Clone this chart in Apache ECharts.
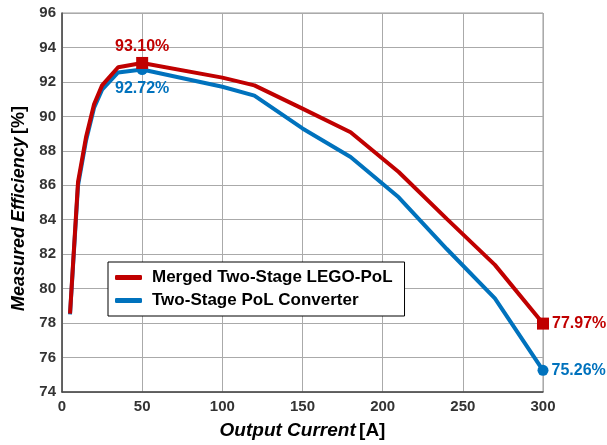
<!DOCTYPE html>
<html>
<head>
<meta charset="utf-8">
<script src="https://cdn.jsdelivr.net/npm/echarts@6/dist/echarts.min.js"></script>
<style>
  html, body { margin: 0; padding: 0; background: #fff; }
  #chart { width: 607px; height: 445px; }
</style>
</head>
<body>
<div id="chart"></div>
<script>
// Output current sweep [A]
const current = [5, 10, 15, 20, 25, 35, 50, 100, 120, 150, 180, 210, 240, 270, 300];
// Measured efficiency [%]
const mergedLego = [78.55, 86.2, 88.8, 90.7, 91.8, 92.85, 93.10, 92.25, 91.8, 90.45, 89.08, 86.77, 84.05, 81.38, 77.97];
const twoStagePol = [78.5, 86.0, 88.6, 90.5, 91.55, 92.55, 92.72, 91.72, 91.2, 89.3, 87.64, 85.3, 82.3, 79.43, 75.26];

const seriesNames = ['Merged Two-Stage LEGO-PoL', 'Two-Stage PoL Converter'];
const xTicks = [0, 50, 100, 150, 200, 250, 300];
const yTicks = [74, 76, 78, 80, 82, 84, 86, 88, 90, 92, 94, 96];

// highlighted points: [current, efficiency]
const mergedMarks = [[50, 93.10], [300, 77.97]];
const polMarks = [[50, 92.72], [300, 75.26]];

const RED = '#C00000';
const BLUE = '#0072BD';
const FONT = '"Liberation Sans", Arial, sans-serif';

const pairs = (ys) => current.map((x, i) => [x, ys[i]]);

const chart = echarts.init(document.getElementById('chart'), null, { renderer: 'canvas' });

const tickLabel = { color: '#333', fontFamily: FONT, fontWeight: 'bold', fontSize: 15 };
const axisNameRich = (size) => ({
  i: { fontFamily: FONT, fontStyle: 'italic', fontWeight: 'bold', fontSize: size, color: '#000' },
  n: { fontFamily: FONT, fontWeight: 'bold', fontSize: size, color: '#000' }
});

chart.setOption({
  animation: false,
  backgroundColor: '#fff',
  grid: {
    left: 62, right: 64, top: 13, bottom: 53,
    show: true, borderColor: '#9a9a9a', borderWidth: 1, backgroundColor: 'transparent'
  },
  xAxis: {
    type: 'value', min: xTicks[0], max: xTicks[xTicks.length - 1], interval: 50,
    name: '{i|Output Current} {n|[A]}',
    nameLocation: 'middle', nameGap: 29,
    nameTextStyle: { rich: axisNameRich(19) },
    axisLine: { show: true, lineStyle: { color: '#444', width: 1.5 } },
    axisTick: { show: false },
    axisLabel: Object.assign({ margin: 7 }, tickLabel),
    splitLine: { show: true, lineStyle: { color: '#aaa', width: 1 } }
  },
  yAxis: {
    type: 'value', min: yTicks[0], max: yTicks[yTicks.length - 1], interval: 2,
    name: '{i|Measured Efficiency} {n|[%]}',
    nameLocation: 'middle', nameGap: 29, nameRotate: 90,
    nameTextStyle: { rich: axisNameRich(18), padding: [0, 12, 0, 0] },
    axisLine: { show: true, lineStyle: { color: '#444', width: 1.5 } },
    axisTick: { show: false },
    axisLabel: Object.assign({ margin: 6 }, tickLabel),
    splitLine: { show: true, lineStyle: { color: '#aaa', width: 1 } }
  },
  legend: {
    data: seriesNames,
    orient: 'vertical',
    left: 108, top: 262,
    backgroundColor: '#fff',
    borderColor: '#000', borderWidth: 1,
    padding: [7, 12, 7, 7],
    itemGap: 6,
    itemWidth: 27, itemHeight: 5,
    icon: 'roundRect',
    textStyle: { fontFamily: FONT, fontWeight: 'bold', fontSize: 17, color: '#000', padding: [0, 0, 0, 5] }
  },
  series: [
    {
      name: seriesNames[1], type: 'line', data: pairs(twoStagePol),
      showSymbol: false, lineStyle: { color: BLUE, width: 4 }, itemStyle: { color: BLUE }, z: 2
    },
    {
      name: seriesNames[0], type: 'line', data: pairs(mergedLego),
      showSymbol: false, lineStyle: { color: RED, width: 4 }, itemStyle: { color: RED }, z: 3
    },
    {
      name: 'polMarks', type: 'scatter', symbol: 'circle', symbolSize: 11, z: 4,
      itemStyle: { color: BLUE, opacity: 1 },
      data: [
        { value: polMarks[0], label: { show: true, position: 'bottom', distance: 6 } },
        { value: polMarks[1], label: { show: true, position: 'right', distance: 3 } }
      ],
      label: {
        color: BLUE, fontFamily: FONT, fontWeight: 'bold', fontSize: 16,
        formatter: (p) => p.value[1].toFixed(2) + '%'
      }
    },
    {
      name: 'mergedMarks', type: 'scatter', symbol: 'rect', symbolSize: 12, z: 5,
      itemStyle: { color: RED, opacity: 1 },
      data: [
        { value: mergedMarks[0], label: { show: true, position: 'top', distance: 2 } },
        { value: mergedMarks[1], label: { show: true, position: 'right', distance: 3 } }
      ],
      label: {
        color: RED, fontFamily: FONT, fontWeight: 'bold', fontSize: 16,
        formatter: (p) => p.value[1].toFixed(2) + '%'
      }
    }
  ]
});
</script>
</body>
</html>
